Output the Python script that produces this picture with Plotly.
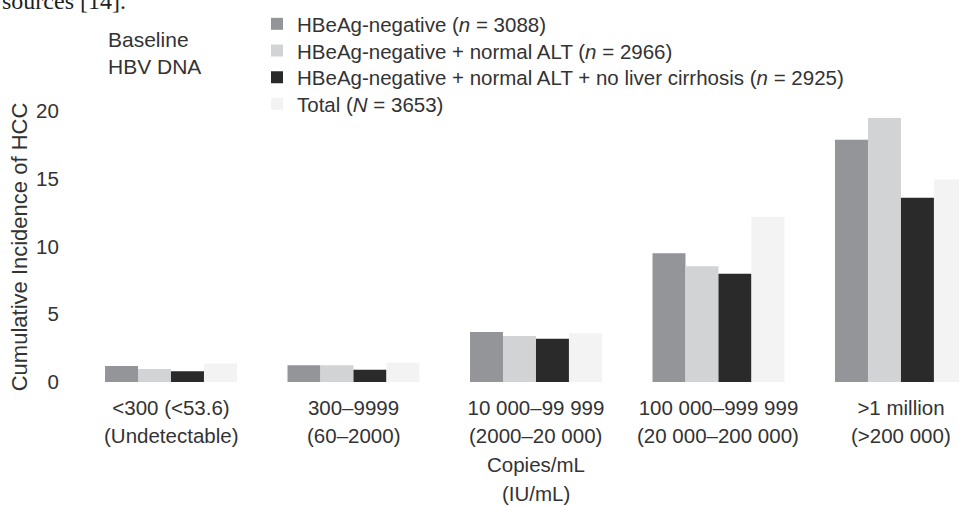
import plotly.graph_objects as go

# ---------------- data ----------------
categories = ["<300 (<53.6)", "300–9999", "10 000–99 999", "100 000–999 999", ">1 million"]
categories_iu = ["(Undetectable)", "(60–2000)", "(2000–20 000)", "(20 000–200 000)", "(>200 000)"]
y_tick_values = [0, 5, 10, 15, 20]

series_names = [
    "HBeAg-negative (<i>n</i> = 3088)",
    "HBeAg-negative + normal ALT (<i>n</i> = 2966)",
    "HBeAg-negative + normal ALT + no liver cirrhosis (<i>n</i> = 2925)",
    "Total (<i>N</i> = 3653)",
]
hbeag_negative = [1.18, 1.23, 3.7, 9.5, 17.9]
hbeag_negative_normal_alt = [0.96, 1.23, 3.4, 8.55, 19.5]
hbeag_negative_normal_alt_no_lc = [0.79, 0.9, 3.2, 8.0, 13.6]
total_cohort = [1.36, 1.43, 3.6, 12.2, 14.95]

series_values = [hbeag_negative, hbeag_negative_normal_alt, hbeag_negative_normal_alt_no_lc, total_cohort]
series_colors = ["#939598", "#d1d3d5", "#2b2a2b", "#f3f3f3"]

# ---------------- layout constants ----------------
W, H = 959, 506
ML, MR, MT, MB = 80, 0, 108, 120
PW, PH = W - ML - MR, H - MT - MB
ZERO_PX = 382.0          # pixel row of value 0
UNIT_PX = 13.54          # pixels per unit of incidence
FONT = "Liberation Sans, Arial, Helvetica, sans-serif"
TXT = "#333333"
FS = 20.5


def px_x(px):
    return (px - ML) / PW


def px_y(py):
    return (H - MB - py) / PH


y_range = [-(H - MB - ZERO_PX) / UNIT_PX, (ZERO_PX - MT) / UNIT_PX]
x_range = [-0.4986, 4.318]

legend_ids = ["legend", "legend2", "legend3", "legend4"]
legend_row_px = [24, 50.7, 77.4, 104]

fig = go.Figure()
for name, vals, col, lid in zip(series_names, series_values, series_colors, legend_ids):
    fig.add_trace(go.Bar(x=categories, y=vals, name=name, legend=lid,
                         marker=dict(color=col, line=dict(width=0))))

layout_legends = {}
for lid, row in zip(legend_ids, legend_row_px):
    layout_legends[lid] = dict(
        x=px_x(257), y=px_y(row - 20), xanchor="left", yanchor="top",
        bgcolor="rgba(0,0,0,0)", borderwidth=0,
        font=dict(family=FONT, size=FS, color=TXT),
    )

fig.update_layout(
    width=W,
    height=H,
    margin=dict(l=ML, r=MR, t=MT, b=MB, pad=0, autoexpand=False),
    paper_bgcolor="white",
    plot_bgcolor="white",
    barmode="group",
    bargap=0.277,
    bargroupgap=0,
    font=dict(family=FONT, size=FS, color=TXT),
    showlegend=True,
    **layout_legends,
    xaxis=dict(
        type="category",
        categoryorder="array",
        categoryarray=categories,
        range=x_range,
        showgrid=False, zeroline=False, showline=False,
        ticks="outside", ticklen=3, tickcolor="rgba(0,0,0,0)", automargin=False,
        tickfont=dict(family=FONT, size=FS, color=TXT),
    ),
    yaxis=dict(
        range=y_range,
        tickmode="array", tickvals=y_tick_values,
        showgrid=False, zeroline=False, showline=False,
        ticks="outside", ticklen=16, tickcolor="rgba(0,0,0,0)", automargin=False,
        tickfont=dict(family=FONT, size=FS, color=TXT),
        title=dict(text="Cumulative Incidence of HCC", font=dict(family=FONT, size=22, color=TXT), standoff=2),
    ),
)

# second line of each category label (IU/mL values)
for cat, iu in zip(categories, categories_iu):
    fig.add_annotation(text=iu, xref="x", x=cat, yref="paper", y=px_y(435),
                       xanchor="center", yanchor="middle", showarrow=False,
                       font=dict(family=FONT, size=FS, color=TXT))

for txt, py in [("Copies/mL", 464), ("(IU/mL)", 493.5)]:
    fig.add_annotation(text=txt, xref="x", x=categories[2], yref="paper", y=px_y(py),
                       xanchor="center", yanchor="middle", showarrow=False,
                       font=dict(family=FONT, size=FS, color=TXT))

for txt, py in [("Baseline", 39), ("HBV DNA", 66.5)]:
    fig.add_annotation(text=txt, xref="paper", x=px_x(106), yref="paper", y=px_y(py),
                       xanchor="left", yanchor="middle", showarrow=False,
                       font=dict(family=FONT, size=21, color=TXT))

fig.add_annotation(text="sources [14].", xref="paper", x=px_x(0), yref="paper", y=px_y(1),
                   xanchor="left", yanchor="middle", showarrow=False,
                   font=dict(family="Liberation Serif, Times New Roman, serif", size=24, color="#222222"))

fig.write_html(
    "out.html",
    config={"displayModeBar": False},
    post_script="document.body.style.margin='0px'; document.body.style.overflow='hidden';",
)
